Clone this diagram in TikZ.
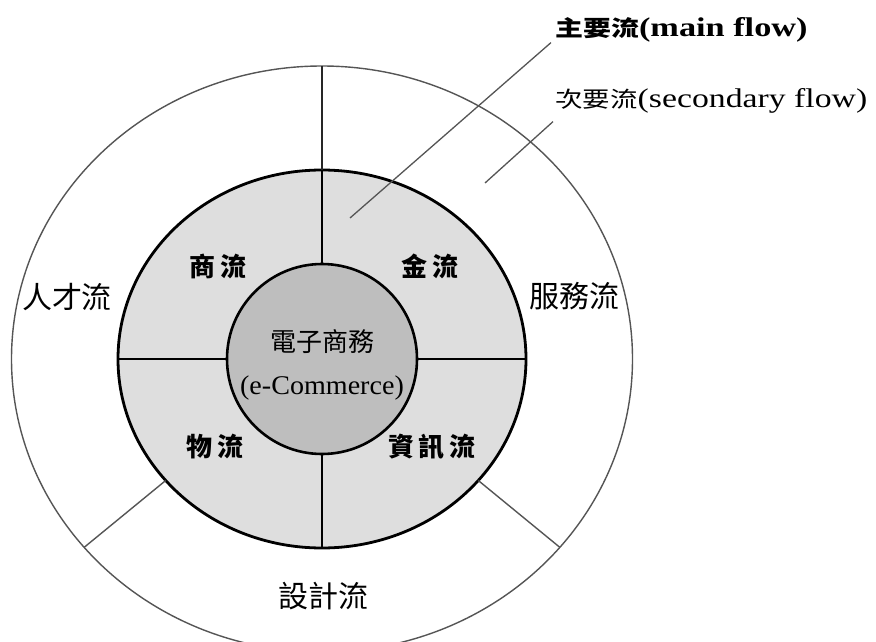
\documentclass[tikz,border=0pt]{standalone}
\usepackage{fontspec}
\setmainfont{Liberation Serif}
\newfontfamily\cjk{Noto Sans CJK TC}
\definecolor{ringgray}{HTML}{DEDEDE}
\definecolor{coregray}{HTML}{BEBEBE}
\definecolor{thinline}{HTML}{555555}
\tikzset{
  outerline/.style={draw=thinline, line width=1.4pt},
  leader/.style={draw=thinline, line width=1.3pt},
  heavy/.style={draw=black, line width=2.8pt},
  innerlbl/.style={inner sep=0pt, font=\cjk\bfseries\fontsize{26}{26}\selectfont},
  outerlbl/.style={inner sep=0pt, font=\cjk\fontsize{30}{30}\selectfont},
  corelbl/.style={inner sep=0pt, font=\cjk\fontsize{26}{26}\selectfont},
  keylbl/.style={inner sep=0pt, anchor=west}
}
\begin{document}
\begin{tikzpicture}[x=1pt,y=-1pt]
\useasboundingbox (0,0) rectangle (876,642);
\fill[white] (0,0) rectangle (876,642);
\clip (0,0) rectangle (876,642);
\coordinate (C) at (322,359);
% outer ring
\draw[outerline] (C) ellipse [x radius=310.5, y radius=293];
% middle ring
\filldraw[fill=ringgray, heavy] (C) ellipse [x radius=204, y radius=189];
% key points
\coordinate (ot) at (322,66);
\coordinate (mt) at (322,170);
\coordinate (mb) at (322,548);
\coordinate (ml) at (118,359);
\coordinate (mr) at (526,359);
\coordinate (oll) at (84.1,547.4);
\coordinate (mll) at (165.7,480.5);
\coordinate (olr) at (559.9,547.4);
\coordinate (mlr) at (478.3,480.5);
% dividers
\draw[draw=black!85, line width=1.8pt] (ot) -- (mt);
\draw[outerline] (mll) -- (oll);
\draw[outerline] (mlr) -- (olr);
\draw[heavy] (mt) -- (mb);
\draw[heavy] (ml) -- (mr);
% core
\filldraw[fill=coregray, draw=black, line width=2.6pt] (C) circle [radius=95];
% labels
\node[innerlbl] (sl) at (218,266) {商\kern5pt 流};
\node[innerlbl] (jl) at (430,266) {金\kern5pt 流};
\node[innerlbl] (wl) at (215,447) {物\kern5pt 流};
\node[innerlbl] (zx) at (432,447) {資\kern5pt 訊\kern5pt 流};
\node[corelbl] (ec) at (322,342) {電子商務};
\node[inner sep=0pt, font=\fontsize{27}{27}\selectfont] (ece) at (322,388) {\scalebox{1.04}[1]{(e-Commerce)}};
\node[outerlbl] (rc) at (67,297) {人才流};
\node[outerlbl] (fw) at (574,296) {服務流};
\node[outerlbl] (sj) at (323,596) {設計流};
% key
\node[keylbl] (kmain) at (555,30) {\scalebox{1.27}[1]{\bfseries\fontsize{27}{27}\selectfont{\cjk\fontsize{22}{22}\selectfont 主要流}(main flow)}};
\node[keylbl] (ksec) at (555,101) {\scalebox{1.25}[1]{\fontsize{27}{27}\selectfont{\cjk\fontsize{22}{22}\selectfont 次要流}(secondary flow)}};
\coordinate (pmain) at (350,218);
\coordinate (psec) at (485,183);
\draw[leader] (kmain.south west) ++(-4,0) coordinate (kmainend) (kmainend) -- (pmain);
\draw[leader] (ksec.south west) ++(-2,8) coordinate (ksecend) (ksecend) -- (psec);
\end{tikzpicture}
\end{document}
